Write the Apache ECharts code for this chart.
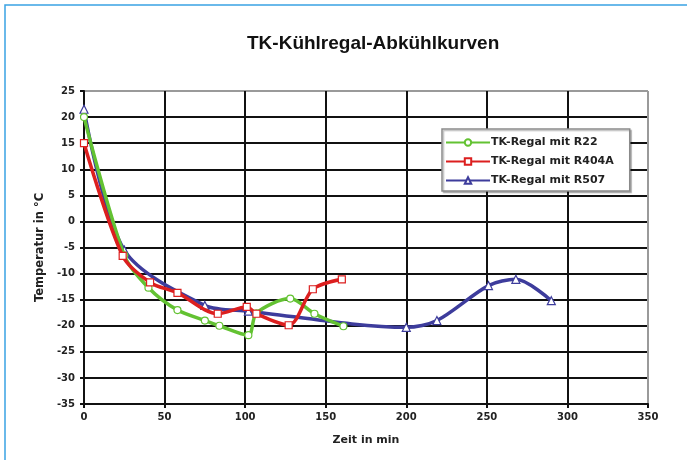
<!DOCTYPE html>
<html>
<head>
<meta charset="utf-8">
<script src="https://cdn.jsdelivr.net/npm/echarts@6/dist/echarts.min.js"></script>
<style>
  html, body { margin: 0; padding: 0; background: #fff; }
  #chart { width: 687px; height: 460px; }
</style>
</head>
<body>
<div id="chart"></div>
<script>
// Cooling curves of a frozen-food display cabinet: [time in min, temperature in °C]
const seriesNames = ['TK-Regal mit R22', 'TK-Regal mit R404A', 'TK-Regal mit R507'];

const r22 = [
  [0, 20], [25, -6.5], [40, -12.7], [58, -17.0], [75, -19.0], [84, -20.0],
  [102, -21.8], [107, -17.6], [128, -14.8], [143, -17.7], [161, -20.1]
];
const r404a = [
  [0, 15], [24, -6.6], [41, -11.7], [58, -13.7], [83, -17.7], [101, -16.4],
  [107, -17.7], [127, -19.9], [142, -13.0], [160, -11.1]
];
const r507 = [
  [0, 21.5], [25, -5.5], [75, -16.1], [102, -17.2], [200, -20.3],
  [219, -19.0], [251, -12.3], [268, -11.1], [290, -15.2]
];

const xTicks = { min: 0, max: 350, step: 50 };
const yTicks = { min: -35, max: 25, step: 5 };

const colors = ['#63c232', '#dc1f1f', '#3d3c9c'];
const symbols = ['circle', 'rect', 'triangle'];
const dataSets = [r22, r404a, r507];

const labelFont = { fontFamily: 'DejaVu Sans', fontSize: 10, fontWeight: 'bold', color: '#222' };

// Excel-style grid: black lines, light grey frame on top and right
const ySplitColors = [];
for (let v = yTicks.min; v <= yTicks.max; v += yTicks.step) ySplitColors.push(v === yTicks.max ? '#9a9a9a' : '#111');
const xSplitColors = [];
for (let v = xTicks.min; v <= xTicks.max; v += xTicks.step) xSplitColors.push(v === xTicks.max ? '#9a9a9a' : '#111');

const chart = echarts.init(document.getElementById('chart'), null, { renderer: 'canvas' });
chart.setOption({
  backgroundColor: '#fff',
  animation: false,
  graphic: [{
    type: 'rect',
    shape: { x: 5, y: 5, width: 720, height: 500 },
    style: { fill: 'none', stroke: '#3aa3e3', lineWidth: 1.5 },
    z: 0
  }],
  title: {
    text: 'TK-Kühlregal-Abkühlkurven',
    left: 242, top: 29,
    textStyle: { fontFamily: 'Liberation Sans', fontSize: 19, fontWeight: 'bold', color: '#111' }
  },
  grid: { left: 84, right: 39, top: 91, bottom: 56 },
  legend: {
    data: seriesNames,
    orient: 'vertical',
    left: 442, top: 129,
    padding: [8, 16, 5, 3],
    itemWidth: 44, itemHeight: 8, itemGap: 8,
    backgroundColor: '#fff',
    borderColor: '#8a8a8a', borderWidth: 1.5,
    shadowColor: 'rgba(0,0,0,0.25)', shadowBlur: 1, shadowOffsetX: 1.5, shadowOffsetY: 1.5,
    textStyle: { fontFamily: 'DejaVu Sans', fontSize: 11, fontWeight: 'bold', color: '#222', padding: [0, 0, 0, -4] }
  },
  xAxis: {
    type: 'value',
    min: xTicks.min, max: xTicks.max, interval: xTicks.step,
    name: 'Zeit in min', nameLocation: 'middle', nameGap: 31,
    nameTextStyle: { fontFamily: 'DejaVu Sans', fontSize: 11, fontWeight: 'bold', color: '#222' },
    axisLine: { onZero: false, lineStyle: { color: '#111', width: 2 } },
    axisTick: { show: true, length: 4, lineStyle: { color: '#111', width: 2 } },
    axisLabel: Object.assign({ margin: 8 }, labelFont),
    splitLine: { show: true, lineStyle: { color: xSplitColors, width: 2 } }
  },
  yAxis: {
    type: 'value',
    min: yTicks.min, max: yTicks.max, interval: yTicks.step,
    name: 'Temperatur in °C', nameLocation: 'middle', nameGap: 35, nameRotate: 90,
    nameTextStyle: { fontFamily: 'DejaVu Sans', fontSize: 11.5, fontWeight: 'bold', color: '#222' },
    axisLine: { onZero: false, lineStyle: { color: '#111', width: 2 } },
    axisTick: { show: true, length: 4, lineStyle: { color: '#111', width: 2 } },
    axisLabel: Object.assign({ margin: 9 }, labelFont),
    splitLine: { show: true, lineStyle: { color: ySplitColors, width: 2 } }
  },
  series: seriesNames.map((name, i) => ({
    name: name,
    type: 'line',
    data: dataSets[i],
    smooth: 0.3,
    symbol: symbols[i],
    symbolSize: i === 2 ? 8 : 7,
    itemStyle: { color: '#fff', borderColor: colors[i], borderWidth: 1.2 },
    lineStyle: { color: colors[i], width: 3.5 },
    z: 3 + (i === 2 ? 0 : i + 1)
  }))
});
</script>
</body>
</html>
